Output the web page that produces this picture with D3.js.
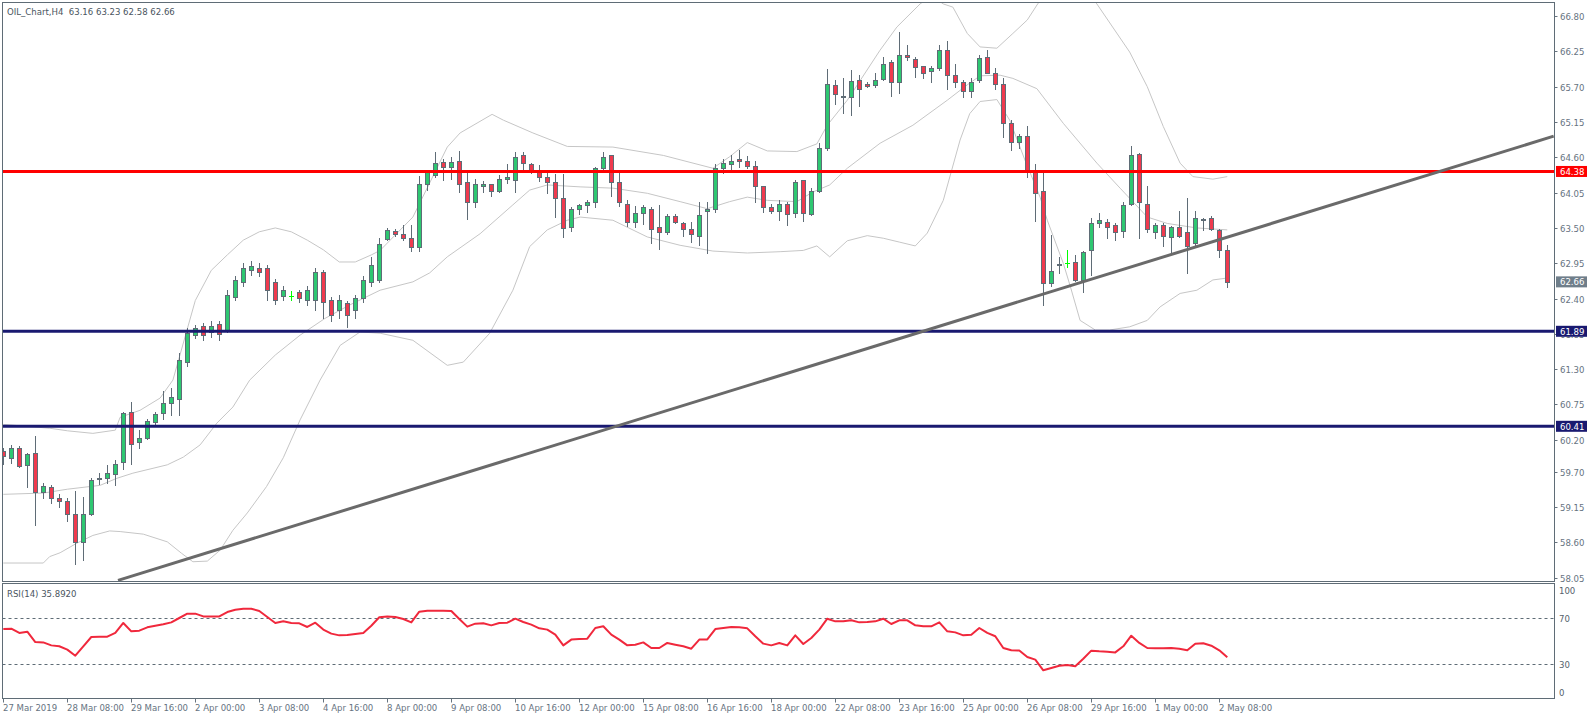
<!DOCTYPE html>
<html>
<head>
<meta charset="utf-8">
<script src="https://cdnjs.cloudflare.com/ajax/libs/d3/7.8.5/d3.min.js"></script>
<style>
html, body { margin: 0; padding: 0; background: #fff; }
svg { display: block; font-family: "DejaVu Sans Condensed", "DejaVu Sans", sans-serif; }
text { white-space: pre; }
</style>
</head>
<body>
<div id="chart"></div>
<script>
// ---- data ----
var title = "OIL_Chart,H4  63.16 63.23 62.58 62.66";
var rsiTitle = "RSI(14) 35.8920";

var opens = [60.03,59.92,60.07,59.81,59.99,59.39,59.47,59.29,59.24,59.04,
  58.61,59.04,59.60,59.61,59.66,59.85,60.63,60.17,60.22,60.48,
  60.61,60.78,60.84,61.41,61.83,61.97,61.88,62.00,61.91,62.43,
  62.66,62.84,62.87,62.87,62.66,62.44,62.44,62.50,62.38,62.38,
  62.81,62.38,62.22,62.33,62.22,62.41,62.66,62.69,63.33,63.46,
  63.40,63.34,63.20,64.18,64.32,64.52,64.45,64.54,64.21,63.90,
  64.16,64.18,64.08,64.27,64.25,64.63,64.49,64.39,64.29,64.22,
  63.96,63.52,63.79,63.85,63.90,64.44,64.63,64.22,63.87,63.60,
  63.73,63.80,63.51,63.44,63.68,63.57,63.48,63.38,63.77,63.79,
  64.43,64.49,64.57,64.54,64.46,64.15,63.82,63.77,63.87,63.73,
  64.24,63.71,64.08,64.75,65.72,65.56,65.54,65.80,65.75,65.72,
  65.82,66.08,65.77,66.20,66.13,66.02,65.94,65.99,66.28,65.88,
  65.78,65.63,65.80,66.16,65.91,65.74,65.13,64.84,64.93,64.39,
  64.07,62.65,62.935,62.95,62.97,62.69,63.15,63.57,63.60,63.54,
  63.45,63.87,64.65,63.88,63.43,63.55,63.36,63.51,63.43,63.26,
  63.645,63.66,63.47,63.16];
var highs = [60.07,60.12,60.10,59.99,60.26,59.53,59.49,59.35,59.30,59.40,
  59.31,59.60,59.68,59.80,59.88,60.64,60.79,60.36,60.53,60.63,
  60.96,61.00,61.55,61.94,61.99,62.02,62.05,62.05,62.53,62.75,
  62.95,62.99,62.95,62.92,62.70,62.60,62.52,62.53,62.60,62.87,
  62.85,62.42,62.45,62.36,62.46,62.75,63.05,63.34,63.50,63.49,
  63.54,63.54,64.31,64.41,64.68,64.57,64.60,64.70,64.39,64.26,
  64.23,64.19,64.32,64.49,64.68,64.68,64.51,64.48,64.37,64.34,
  64.34,63.82,63.88,63.93,64.45,64.69,64.63,64.37,63.93,63.84,
  63.86,63.82,63.86,63.71,63.71,63.60,63.60,63.90,63.90,64.49,
  64.57,64.63,64.71,64.62,64.55,64.16,63.88,63.93,63.91,64.25,
  64.25,64.13,64.82,65.97,65.80,65.84,65.96,65.88,65.78,65.92,
  66.16,66.11,66.55,66.35,66.16,66.03,66.03,66.35,66.41,66.05,
  65.81,65.84,66.19,66.27,65.99,65.83,65.18,64.96,65.09,64.49,
  64.35,63.39,63.04,63.16,63.08,63.14,63.66,63.73,63.64,63.57,
  63.90,64.77,64.66,64.15,63.57,63.57,63.53,63.77,63.96,63.77,
  63.65,63.68,63.49,63.23];
var lows = [59.83,59.84,59.77,59.47,58.87,59.30,59.22,59.15,58.94,58.27,
  58.32,59.03,59.51,59.53,59.49,59.75,59.82,60.07,60.21,60.45,
  60.52,60.59,60.59,61.35,61.78,61.76,61.80,61.75,61.88,62.38,
  62.60,62.77,62.75,62.38,62.32,62.38,62.38,62.34,62.30,62.22,
  62.09,62.05,62.10,61.95,62.10,62.34,62.60,62.66,63.31,63.38,
  63.32,63.14,63.14,64.09,64.29,64.25,64.27,64.06,63.64,63.83,
  64.06,63.99,64.06,64.20,64.06,64.42,64.35,64.23,64.05,63.67,
  63.36,63.46,63.71,63.75,63.83,64.37,64.00,63.84,63.53,63.52,
  63.56,63.26,63.17,63.41,63.57,63.38,63.28,63.23,63.11,63.75,
  64.35,64.40,64.45,64.44,63.90,63.75,63.73,63.63,63.55,63.67,
  63.61,63.70,64.06,64.72,65.43,65.29,65.26,65.40,65.69,65.69,
  65.80,65.56,65.60,66.11,65.85,65.84,65.77,65.96,65.66,65.70,
  65.54,65.54,65.78,65.91,65.67,64.92,64.72,64.75,64.29,63.61,
  62.30,62.60,62.80,62.89,62.68,62.50,62.77,63.52,63.35,63.31,
  63.36,63.85,63.34,63.43,63.34,63.22,63.10,63.36,62.80,63.23,
  63.47,63.47,63.04,62.58];
var closes = [59.94,60.07,59.79,59.98,59.39,59.48,59.29,59.25,59.05,58.60,
  59.05,59.58,59.61,59.68,59.83,60.61,60.14,60.22,60.50,60.60,
  60.78,60.86,61.44,61.86,61.94,61.83,61.97,61.85,62.45,62.69,
  62.87,62.90,62.81,62.53,62.38,62.53,62.44,62.41,62.53,62.81,
  62.34,62.14,62.38,62.14,62.41,62.69,62.92,63.25,63.47,63.40,
  63.35,63.21,64.19,64.39,64.51,64.45,64.52,64.18,63.90,64.18,
  64.18,64.07,64.26,64.29,64.61,64.51,64.37,64.29,64.21,63.96,
  63.50,63.79,63.85,63.90,64.43,64.61,64.21,63.90,63.60,63.73,
  63.82,63.49,63.43,63.69,63.59,63.48,63.40,63.70,63.79,64.43,
  64.51,64.55,64.54,64.47,64.15,63.83,63.76,63.87,63.71,64.22,
  63.73,64.07,64.74,65.74,65.58,65.54,65.79,65.66,65.71,65.81,
  66.06,65.77,66.19,66.16,66.00,65.92,65.99,66.27,65.88,65.77,
  65.63,65.78,66.14,65.92,65.75,65.13,64.84,64.93,64.39,64.05,
  62.64,62.83,62.945,62.95,62.69,63.13,63.57,63.62,63.52,63.43,
  63.85,64.63,63.90,63.49,63.54,63.38,63.51,63.38,63.22,63.65,
  63.64,63.48,63.15,62.66];

var rsiValues = [60.4,60.7,57.0,58.1,49.1,48.8,46.2,45.4,42.5,37.2,
  45.4,53.5,53.8,53.8,57.0,65.7,58.4,59.0,61.9,63.3,
  64.5,66.2,70.0,73.8,73.8,71.4,71.4,71.4,75.2,77.2,
  78.1,78.1,76.1,70.9,65.7,67.1,65.7,65.4,62.2,65.9,
  59.9,56.4,54.9,55.2,56.1,57.0,63.3,70.6,71.4,70.9,
  69.1,66.2,75.5,76.4,76.4,76.4,76.1,69.1,62.5,65.1,
  65.4,63.6,65.7,65.9,69.4,66.5,64.2,61.0,59.9,55.5,
  46.2,51.2,51.7,52.0,61.3,62.8,55.5,51.2,46.2,46.8,
  48.8,43.9,43.9,48.3,46.8,45.4,43.3,51.2,51.4,60.4,
  61.3,62.2,61.9,61.0,54.1,47.7,46.2,48.3,46.2,54.9,
  47.4,52.6,59.9,69.4,67.1,67.1,68.0,66.2,66.5,67.1,
  69.4,64.8,68.0,68.0,63.6,62.8,62.8,66.2,58.4,57.5,
  54.9,55.5,61.3,57.0,54.1,43.9,41.9,41.7,36.1,33.8,
  24.5,26.5,28.5,29.1,28.0,34.6,41.6,41.0,40.7,40.1,
  45.4,54.6,48.3,43.9,43.6,43.6,43.9,43.3,41.9,47.7,
  48.0,45.9,41.9,35.89];

// Bollinger bands, [bar, price]
var bbUpper = [[0,60.44],[5.8,60.38],[8,60.34],[11.2,60.30],[14,60.35],[14.6,60.55],[17.1,60.66],[19.6,60.85],[21.2,61.13],
  [24,62.37],[26,62.84],[28,63.08],[30,63.31],[32,63.44],[34,63.50],[36,63.44],[38,63.31],[40,63.16],[42,62.97],[44,62.97],[46,63.08],
  [47.1,63.15],[51.2,63.67],[55.5,64.76],[57.1,64.98],[61.1,65.27],[62.5,65.18],[66.2,64.98],[70.5,64.77],[76.2,64.76],[82.5,64.63],
  [88.7,64.43],[90.8,64.61],[93,64.83],[95.5,64.70],[99.2,64.69],[101.7,64.81],[103,65.10],[105.5,65.49],[109.6,66.27],[111.7,66.63],
  [114.6,66.99],[116,67.12],[117.5,66.99],[118.7,66.94],[120.5,66.53],[122.1,66.32],[124.2,66.30],[126.2,66.53],[128,66.74],[129.3,66.99],
  [131,67.25],[133,67.35],[135,67.25],[136.7,66.99],[140.8,66.24],[143,65.70],[145,65.08],[147.1,64.51],[148.7,64.30],[151.2,64.26],[153,64.30]];
var bbMiddle = [[0,59.35],[5,59.37],[8,59.43],[12.1,59.49],[14.2,59.60],[16.2,59.68],[20.5,59.81],[22.5,59.93],[24.6,60.12],[26.7,60.46],
  [28.7,60.71],[30.8,61.13],[34,61.52],[37.1,61.83],[40.2,62.09],[43.3,62.30],[47.1,62.53],[51.2,62.66],[53.3,62.80],[55.5,63.05],
  [59.6,63.41],[63.7,63.86],[65.8,64.09],[68,64.17],[72.1,64.14],[76.2,64.12],[80.5,64.04],[84.6,63.91],[88,63.80],[90.8,63.91],
  [93,63.98],[95.5,63.93],[99.2,63.91],[101.2,64.06],[103.3,64.17],[105.5,64.43],[109.6,64.82],[113.7,65.10],[118,65.49],[120.5,65.73],
  [122.1,65.87],[124.6,65.88],[126.2,65.83],[129.2,65.67],[132.5,65.13],[136.7,64.51],[139.6,64.12],[143,63.67],[145.5,63.57],[149.2,63.50],[153,63.47]];
var bbLower = [[0,58.28],[5,58.28],[5.8,58.38],[7.1,58.44],[9.2,58.59],[11.2,58.71],[13.3,58.78],[14.6,58.77],[17.5,58.73],[20.5,58.61],
  [22.3,58.43],[23.7,58.30],[25.5,58.31],[27.1,58.48],[28.7,58.79],[30.5,59.06],[32.9,59.47],[35,59.92],[37.1,60.51],[39.6,61.13],
  [42.1,61.67],[44.6,61.88],[47.1,61.86],[51.2,61.75],[55.5,61.36],[57.5,61.41],[60.8,61.86],[63.7,62.53],[65.8,63.21],[68,63.47],
  [70.5,63.62],[72.1,63.67],[76.2,63.62],[80.5,63.36],[84.6,63.23],[88.7,63.14],[93,63.11],[97.1,63.13],[100,63.15],[101.7,63.22],
  [103.3,63.05],[105.5,63.30],[108,63.38],[110,63.34],[112,63.28],[114,63.22],[115.5,63.42],[117.5,63.93],[119.6,64.87],[120.8,65.28],[122.1,65.47],
  [124.2,65.50],[125.8,65.18],[127.7,64.56],[129.6,63.98],[130.5,63.62],[132.5,62.95],[133.4,62.58],[134.6,62.06],[136.5,61.91],[138.3,61.91],
  [140.8,61.96],[143,62.06],[144.6,62.27],[147.1,62.48],[149.2,62.53],[151.2,62.69],[153,62.72]];

var timeLabels = ["27 Mar 2019","28 Mar 08:00","29 Mar 16:00","2 Apr 00:00","3 Apr 08:00","4 Apr 16:00",
  "8 Apr 00:00","9 Apr 08:00","10 Apr 16:00","12 Apr 00:00","15 Apr 08:00","16 Apr 16:00","18 Apr 00:00",
  "22 Apr 08:00","23 Apr 16:00","25 Apr 00:00","26 Apr 08:00","29 Apr 16:00","1 May 00:00","2 May 08:00"];
var timeLabelBars = [0,8,16,24,32,40,48,56,64,72,80,88,96,104,112,120,128,136,144,152];

var priceTicks = [66.80,66.25,65.70,65.15,64.60,64.05,63.50,62.95,62.40,61.85,61.30,60.75,60.20,59.70,59.15,58.60,58.05];
var rsiTicks = [100,70,30,0];
var rsiLevels = [70,30];

var levelPrices = [64.38,61.89,60.41];
var levelColors = ["#ff0000","#191970","#191970"];
var lastPrice = 62.66;

var trendBars = [14.34,193.8];
var trendPrices = [58.01,64.93];

// ---- layout ----
var W = 1594, H = 719;
var left = 2.5, right = 1554.5;
var mainTop = 2.5, mainBottom = 581.5;
var rsiTop = 583.5, rsiBottom = 698.5;

var svg = d3.select("#chart").append("svg")
    .attr("width", W).attr("height", H);

var x = d3.scaleLinear().domain([0, 193.84]).range([3.3, 1554]);
var y = d3.scaleLinear().domain([58.0, 67.02]).range([581, 2]);
var yr = d3.scaleLinear().domain([0, 100]).range([698.5, 583.5]);

var defs = svg.append("defs");
defs.append("clipPath").attr("id", "clipMain").append("rect")
    .attr("x", left).attr("y", mainTop).attr("width", right - left).attr("height", mainBottom - mainTop);
defs.append("clipPath").attr("id", "clipRsi").append("rect")
    .attr("x", left).attr("y", rsiTop).attr("width", right - left).attr("height", rsiBottom - rsiTop);

var main = svg.append("g").attr("clip-path", "url(#clipMain)");

// bollinger bands
var bandLine = d3.line()
    .x(function(d) { return x(d[0]); })
    .y(function(d) { return y(d[1]); });
[bbUpper, bbMiddle, bbLower].forEach(function(b) {
  main.append("path").datum(b)
      .attr("d", bandLine)
      .attr("fill", "none")
      .attr("stroke", "#c6c6c6")
      .attr("stroke-width", 1);
});

// candles
var candles = closes.map(function(c, i) {
  return {i: i, o: opens[i], h: highs[i], l: lows[i], c: c};
});
var outline = "#5f6c76";
var cg = main.append("g");
candles.forEach(function(d) {
  var cx = Math.round(x(d.i));
  var doji = d.o === d.c;
  var col = doji ? "#00ff00" : outline;
  cg.append("line")
      .attr("x1", cx + 0.5).attr("x2", cx + 0.5)
      .attr("y1", Math.round(y(d.h))).attr("y2", Math.round(y(d.l)) + 1)
      .attr("stroke", col).attr("stroke-width", 1);
  if (doji) {
    var yy = Math.round(y(d.c)) + 0.5;
    cg.append("line")
        .attr("x1", cx - 2).attr("x2", cx + 3)
        .attr("y1", yy).attr("y2", yy)
        .attr("stroke", col).attr("stroke-width", 1);
    return;
  }
  var top = Math.round(y(Math.max(d.o, d.c)));
  var bot = Math.round(y(Math.min(d.o, d.c)));
  cg.append("rect")
      .attr("x", cx - 1.5).attr("y", top + 0.5)
      .attr("width", 4).attr("height", Math.max(bot - top, 1))
      .attr("fill", d.c > d.o ? "#2ec771" : "#ef3a4e")
      .attr("stroke", outline).attr("stroke-width", 1);
});

// horizontal levels
levelPrices.forEach(function(p, i) {
  main.append("line")
      .attr("x1", left).attr("x2", right)
      .attr("y1", y(p)).attr("y2", y(p))
      .attr("stroke", levelColors[i]).attr("stroke-width", 3);
});

// trend line
main.append("line")
    .attr("x1", x(trendBars[0])).attr("y1", y(trendPrices[0]))
    .attr("x2", x(trendBars[1])).attr("y2", y(trendPrices[1]))
    .attr("stroke", "#6a6a6a").attr("stroke-width", 3);

// RSI panel
var rg = svg.append("g").attr("clip-path", "url(#clipRsi)");
rsiLevels.forEach(function(v) {
  rg.append("line")
      .attr("x1", left).attr("x2", right)
      .attr("y1", Math.round(yr(v)) + 0.5).attr("y2", Math.round(yr(v)) + 0.5)
      .attr("stroke", "#5f6c76").attr("stroke-width", 1)
      .attr("stroke-dasharray", "3,3");
});
rg.append("path").datum(rsiValues)
    .attr("d", d3.line()
        .x(function(d, i) { return x(i); })
        .y(function(d) { return yr(d); }))
    .attr("fill", "none")
    .attr("stroke", "#f0283c")
    .attr("stroke-width", 2)
    .attr("stroke-linejoin", "round");

// panel borders
var border = "#5f6c76";
svg.append("rect").attr("x", left).attr("y", mainTop)
    .attr("width", right - left).attr("height", mainBottom - mainTop)
    .attr("fill", "none").attr("stroke", border);
svg.append("rect").attr("x", left).attr("y", rsiTop)
    .attr("width", right - left).attr("height", rsiBottom - rsiTop)
    .attr("fill", "none").attr("stroke", border);

var axisColor = "#66737f";
var fs = "9.5px";

// price axis labels (the one under a level box is hidden by it, as in MT4)
function boxed(v) {
  return levelPrices.concat([lastPrice]).some(function(p) { return Math.abs(y(p) - y(v)) < 9; });
}
priceTicks.forEach(function(v) {
  var yy = Math.round(y(v)) + 0.5;
  svg.append("line").attr("x1", right).attr("x2", right + 3)
      .attr("y1", yy).attr("y2", yy).attr("stroke", axisColor);
  svg.append("text").attr("x", 1560).attr("y", yy + 3.5)
      .attr("fill", axisColor).style("font-size", fs)
      .attr("clip-path", boxed(v) ? "url(#clipBelowBox)" : null)
      .text(v.toFixed(2));
});
// only the strip under the box stays visible for a covered label
defs.append("clipPath").attr("id", "clipBelowBox").append("rect")
    .attr("x", 1550).attr("y", y(61.89) + 5.5).attr("width", 44).attr("height", 6);

// level labels
function priceBox(p, color) {
  var yy = y(p);
  svg.append("rect").attr("x", 1556).attr("y", yy - 5.5)
      .attr("width", 31).attr("height", 11).attr("fill", color);
  svg.append("text").attr("x", 1560).attr("y", yy + 3.5)
      .attr("fill", "#fff").style("font-size", fs).text(p.toFixed(2));
}
levelPrices.forEach(function(p, i) { priceBox(p, levelColors[i]); });
priceBox(lastPrice, "#6f7e8a");

// rsi axis labels
rsiTicks.forEach(function(v) {
  var yy = Math.min(Math.max(yr(v), 590), 692);
  svg.append("text").attr("x", 1559).attr("y", yy + 3.5)
      .attr("fill", "#56626c").style("font-size", fs).text(v);
});

// time axis
timeLabelBars.forEach(function(b, i) {
  var xx = Math.round(x(b)) + 0.5;
  svg.append("line").attr("x1", xx).attr("x2", xx)
      .attr("y1", rsiBottom).attr("y2", rsiBottom + 4).attr("stroke", axisColor);
  svg.append("text").attr("x", xx - 0.5).attr("y", 710.5)
      .attr("fill", axisColor).style("font-size", fs).text(timeLabels[i]);
});

// titles
svg.append("text").attr("x", 7).attr("y", 14.5)
    .attr("fill", "#4a5560").style("font-size", fs).text(title);
svg.append("text").attr("x", 7).attr("y", 596.5)
    .attr("fill", "#4a5560").style("font-size", fs).text(rsiTitle);
</script>
</body>
</html>
